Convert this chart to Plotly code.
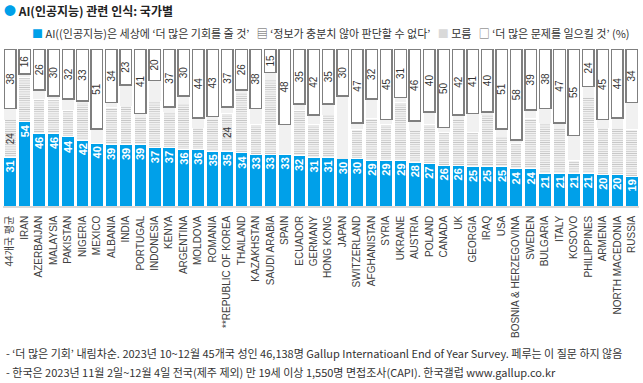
import plotly.graph_objects as go

countries = ["44개국 평균", "IRAN", "AZERBAIJAN", "MALAYSIA", "PAKISTAN", "NIGERIA", "MEXICO",
             "ALBANIA", "INDIA", "PORTUGAL", "INDONESIA", "KENYA", "ARGENTINA", "MOLDOVA",
             "ROMANIA", "**REPUBLIC OF KOREA", "THAILAND", "KAZAKHSTAN", "SAUDI ARABIA", "SPAIN",
             "ECUADOR", "GERMANY", "HONG KONG", "JAPAN", "SWITZERLAND", "AFGHANISTAN", "SYRIA",
             "UKRAINE", "AUSTRIA", "POLAND", "CANADA", "UK", "GEORGIA", "IRAQ", "USA",
             "BOSNIA & HERZEGOVINA", "SWEDEN", "BULGARIA", "ITALY", "KOSOVO", "PHILIPPINES",
             "ARMENIA", "NORTH MACEDONIA", "RUSSIA"]

more_opportunities = [31, 54, 46, 46, 44, 42, 40, 39, 39, 39, 37, 37, 36, 36, 35, 35, 34, 33, 33, 33,
                      32, 31, 31, 30, 30, 29, 29, 29, 28, 27, 26, 26, 25, 25, 25, 24, 24, 21, 21, 21,
                      21, 20, 20, 19]
not_enough_info = [24, 28, 22, 22, 17, 24, 0, 24, 25, 18, 30, 23, 29, 14, 20, 24, 38, 19, 48, 0,
                   29, 21, 27, 0, 19, 27, 23, 37, 20, 25, 21, 29, 22, 33, 19, 16, 32, 32, 29, 8,
                   48, 30, 30, 30]
dont_know = [7, 2, 6, 2, 7, 1, 9, 3, 13, 2, 13, 3, 5, 6, 2, 4, 2, 10, 4, 19,
             4, 6, 7, 40, 4, 12, 3, 3, 6, 8, 3, 3, 12, 2, 5, 2, 5, 9, 3, 16,
             7, 5, 6, 17]
more_problems = [38, 16, 26, 30, 32, 33, 51, 34, 23, 41, 20, 37, 30, 44, 43, 37, 26, 38, 15, 48,
                 35, 42, 35, 30, 47, 32, 45, 31, 46, 40, 50, 42, 41, 40, 51, 58, 39, 38, 47, 55,
                 24, 45, 44, 34]
labelled_info = ["44개국 평균", "**REPUBLIC OF KOREA"]

series_names = ["AI((인공지능)은 세상에 ‘더 많은 기회를 줄 것’",
                "‘정보가 충분치 않아 판단할 수 없다’",
                "모름",
                "‘더 많은 문제를 일으킬 것’"]

W, H = 643, 383
ML, MR, MT, MB = 3, 4, 49, 177
PW, PH = W - ML - MR, H - MT - MB

BLUE = "#00A0E9"
LAT = "Liberation Sans, Arial, Noto Sans CJK KR"
KR = "Noto Sans CJK KR, Liberation Sans"


def px(x):
    return (x - ML) / PW


def py(y):
    return (H - MB - y) / PH


fig = go.Figure()

fig.add_trace(go.Bar(
    x=countries, y=more_opportunities, name=series_names[0],
    marker=dict(color=BLUE, line=dict(width=0)),
    text=[str(v) for v in more_opportunities], textposition="inside",
    insidetextanchor="end", textangle=-90, constraintext="none",
    textfont=dict(color="white", size=11, family=LAT, weight="bold"),
))

fig.add_trace(go.Bar(
    x=countries, y=not_enough_info, name=series_names[1],
    marker=dict(color="white", line=dict(width=1, color="white"),
                pattern=dict(shape="-", fgcolor="#8f8f8f", bgcolor="white", size=2.2, solidity=0.5)),
    text=[str(v) if c in labelled_info else "" for c, v in zip(countries, not_enough_info)],
    textposition="inside", insidetextanchor="middle", textangle=-90, constraintext="none",
    textfont=dict(color="#333333", size=10, family=LAT),
))

fig.add_trace(go.Bar(
    x=countries, y=dont_know, name=series_names[2],
    marker=dict(color="#F1F1F1", line=dict(width=0)),
))

fig.add_trace(go.Bar(
    x=countries, y=more_problems, name=series_names[3],
    marker=dict(color="white", line=dict(width=1.5, color="#7F7F7F")),
    text=[str(v) for v in more_problems], textposition="inside",
    insidetextanchor="middle", textangle=-90, constraintext="none",
    textfont=dict(color="#333333", size=10, family=LAT),
    cliponaxis=False,
))

fig.update_layout(
    width=W, height=H, barmode="stack", bargap=0.2,
    margin=dict(l=ML, r=MR, t=MT, b=MB, pad=0),
    paper_bgcolor="white", plot_bgcolor="white",
    showlegend=False,
    font=dict(family=KR, color="#333333"),
    xaxis=dict(
        type="category", tickangle=-90, showgrid=False, zeroline=False,
        showline=True, linecolor="#D9D9D9", linewidth=1.5,
        ticks="outside", ticklen=4, tickcolor="rgba(0,0,0,0)",
        tickfont=dict(size=10, color="#404040", family=LAT),
    ),
    yaxis=dict(range=[0, 100], visible=False, showgrid=False, zeroline=False),
)

# Title
fig.add_annotation(
    xref="paper", yref="paper", x=px(2), y=py(10), xanchor="left", yanchor="middle",
    text=f'<span style="color:{BLUE}">●</span> <b>AI(인공지능) 관련 인식: 국가별</b>',
    showarrow=False, font=dict(size=12, color="#222222", family=KR),
)

# Legend line
nb = "\u00a0"
legend_text = (
    f'<span style="color:{BLUE}">■</span> {series_names[0]}{nb*3}'
    f'<span style="color:#555555">▤</span> {series_names[1]}{nb*3}'
    f'<span style="color:#D9D9D9">■</span> {series_names[2]}{nb*3}'
    f'<span style="color:#666666">□</span> {series_names[3]} (%)'
)
fig.add_annotation(
    xref="paper", yref="paper", x=px(30), y=py(33), xanchor="left", yanchor="middle",
    text=legend_text, showarrow=False, font=dict(size=11, color="#333333", family=KR),
)

# Footnotes
notes = [
    "- ‘더 많은 기회’ 내림차순. 2023년 10~12월 45개국 성인 46,138명 Gallup Internatioanl End of Year Survey. 페루는 이 질문 하지 않음",
    "- 한국은 2023년 11월 2일~12월 4일 전국(제주 제외) 만 19세 이상 1,550명 면접조사(CAPI). 한국갤럽 www.gallup.co.kr",
]
for i, n in enumerate(notes):
    fig.add_annotation(
        xref="paper", yref="paper", x=px(4), y=py(353 + 19 * i), xanchor="left", yanchor="middle",
        text=n, showarrow=False, font=dict(size=11, color="#333333", family=KR),
    )

fig.write_html(
    "out.html",
    config={"displayModeBar": False},
    post_script="document.body.style.margin='0';document.body.style.overflow='hidden';",
)
